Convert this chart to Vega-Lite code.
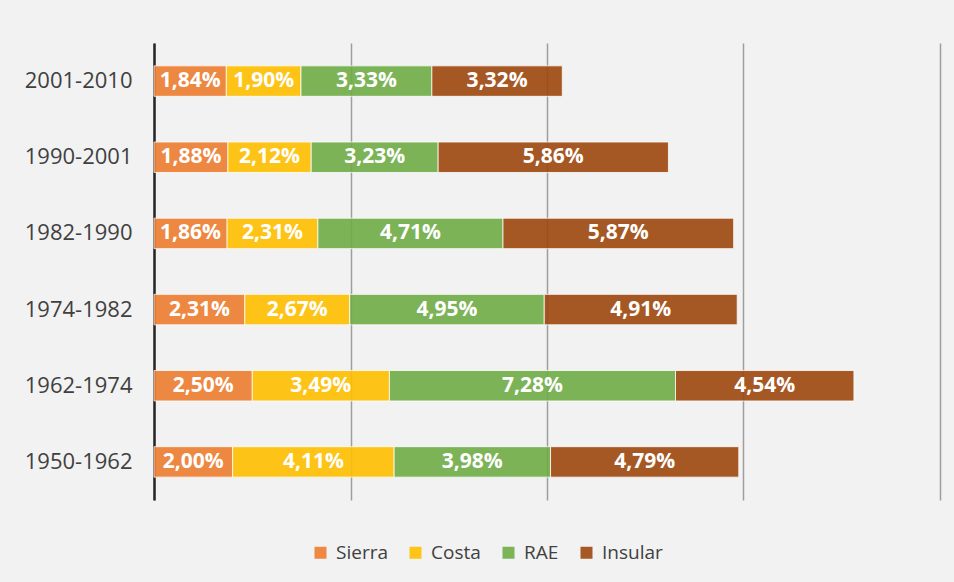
{
  "$schema": "https://vega.github.io/schema/vega-lite/v6.json",
  "width": 786,
  "height": 457,
  "autosize": {"type": "none"},
  "padding": {"left": 154, "top": 43, "right": 14, "bottom": 82},
  "background": "#F2F2F2",
  "config": {
    "locale": {"number": {"decimal": ",", "thousands": ".", "grouping": [3], "currency": ["", " €"]}},
    "view": {"stroke": null},
    "font": "Open Sans"
  },
  "data": {
    "values": [
      {"periodo": "2001-2010", "region": "Sierra", "tasa": 0.0184},
      {"periodo": "2001-2010", "region": "Costa", "tasa": 0.0190},
      {"periodo": "2001-2010", "region": "RAE", "tasa": 0.0333},
      {"periodo": "2001-2010", "region": "Insular", "tasa": 0.0332},
      {"periodo": "1990-2001", "region": "Sierra", "tasa": 0.0188},
      {"periodo": "1990-2001", "region": "Costa", "tasa": 0.0212},
      {"periodo": "1990-2001", "region": "RAE", "tasa": 0.0323},
      {"periodo": "1990-2001", "region": "Insular", "tasa": 0.0586},
      {"periodo": "1982-1990", "region": "Sierra", "tasa": 0.0186},
      {"periodo": "1982-1990", "region": "Costa", "tasa": 0.0231},
      {"periodo": "1982-1990", "region": "RAE", "tasa": 0.0471},
      {"periodo": "1982-1990", "region": "Insular", "tasa": 0.0587},
      {"periodo": "1974-1982", "region": "Sierra", "tasa": 0.0231},
      {"periodo": "1974-1982", "region": "Costa", "tasa": 0.0267},
      {"periodo": "1974-1982", "region": "RAE", "tasa": 0.0495},
      {"periodo": "1974-1982", "region": "Insular", "tasa": 0.0491},
      {"periodo": "1962-1974", "region": "Sierra", "tasa": 0.0250},
      {"periodo": "1962-1974", "region": "Costa", "tasa": 0.0349},
      {"periodo": "1962-1974", "region": "RAE", "tasa": 0.0728},
      {"periodo": "1962-1974", "region": "Insular", "tasa": 0.0454},
      {"periodo": "1950-1962", "region": "Sierra", "tasa": 0.0200},
      {"periodo": "1950-1962", "region": "Costa", "tasa": 0.0411},
      {"periodo": "1950-1962", "region": "RAE", "tasa": 0.0398},
      {"periodo": "1950-1962", "region": "Insular", "tasa": 0.0479}
    ]
  },
  "transform": [
    {"calculate": "indexof(['Sierra','Costa','RAE','Insular'], datum.region)", "as": "ord"},
    {"stack": "tasa", "groupby": ["periodo"], "sort": [{"field": "ord", "order": "ascending"}], "as": ["x0", "x1"]},
    {"calculate": "(datum.x0 + datum.x1) / 2", "as": "xm"}
  ],
  "encoding": {
    "y": {
      "field": "periodo",
      "type": "nominal",
      "sort": null,
      "scale": {"paddingInner": 0.6, "paddingOuter": 0.3},
      "axis": {
        "title": null,
        "ticks": false,
        "labelFontSize": 22,
        "labelColor": "#404040",
        "labelPadding": 22,
        "labelFont": "Open Sans",
        "domainColor": "#262626",
        "domainWidth": 2.5
      }
    }
  },
  "layer": [
    {
      "mark": {"type": "bar", "opacity": 0.9, "stroke": "#FFFFFF", "strokeWidth": 1, "strokeOpacity": 0.8},
      "encoding": {
        "x": {
          "field": "x0",
          "type": "quantitative",
          "scale": {"domain": [0, 0.2], "nice": false},
          "axis": {
            "title": null,
            "labels": false,
            "ticks": false,
            "domain": false,
            "values": [0, 0.05, 0.1, 0.15, 0.2],
            "gridColor": "#9E9E9E",
            "gridWidth": 1.5
          }
        },
        "x2": {"field": "x1"},
        "color": {
          "field": "region",
          "type": "nominal",
          "scale": {
            "domain": ["Sierra", "Costa", "RAE", "Insular"],
            "range": ["#ED7D31", "#FFC000", "#70AD47", "#9E480E"]
          },
          "legend": {
            "title": null,
            "orient": "none",
            "legendX": 157,
            "legendY": 500,
            "direction": "horizontal",
            "symbolType": "square",
            "symbolSize": 144,
            "symbolOpacity": 0.9,
            "symbolStrokeWidth": 0,
            "labelFontSize": 19,
            "labelColor": "#404040",
            "labelFont": "Open Sans",
            "labelOffset": 6,
            "columnPadding": 18
          }
        }
      }
    },
    {
      "mark": {"type": "text", "color": "#FFFFFF", "fontWeight": "bold", "fontSize": 21, "font": "Open Sans", "baseline": "middle", "align": "center"},
      "encoding": {
        "x": {"field": "xm", "type": "quantitative"},
        "text": {"field": "tasa", "type": "quantitative", "format": ".2%"}
      }
    }
  ]
}
